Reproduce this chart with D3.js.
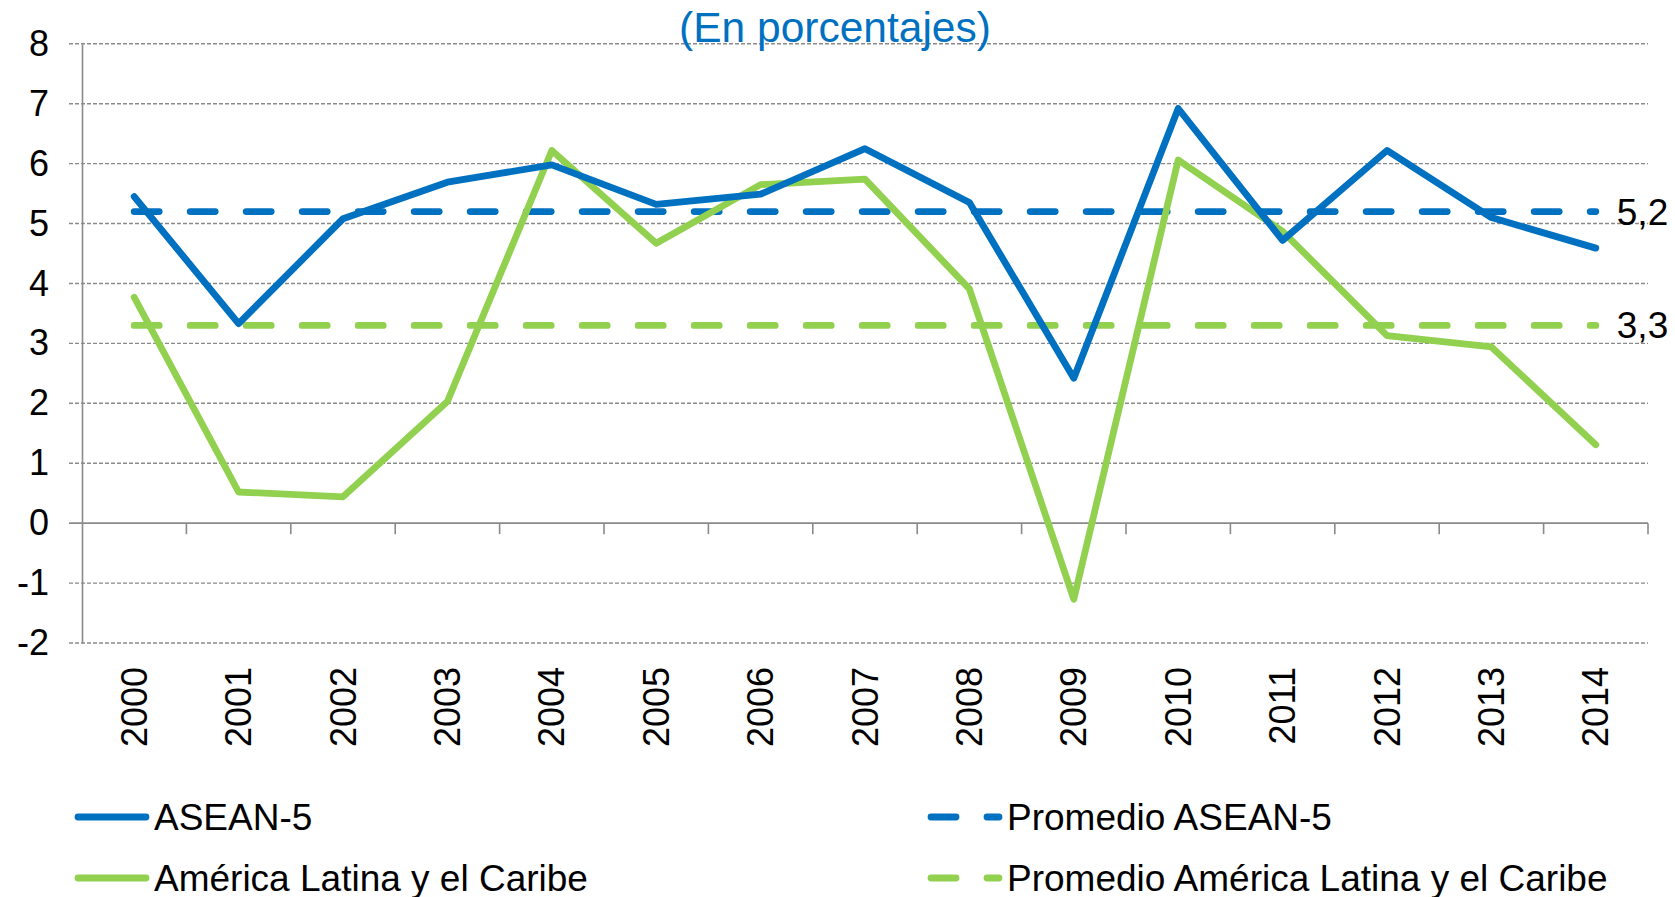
<!DOCTYPE html>
<html>
<head>
<meta charset="utf-8">
<script src="https://cdn.jsdelivr.net/npm/d3@7"></script>
<style>
  body { margin: 0; background: #fff; }
  svg { display: block; font-family: "Liberation Sans", Arial, sans-serif; }
</style>
</head>
<body>
<div id="chart"></div>
<script>
// data
var years = ["2000", "2001", "2002", "2003", "2004", "2005", "2006", "2007",
             "2008", "2009", "2010", "2011", "2012", "2013", "2014"];
var asean = [5.45, 3.33, 5.08, 5.69, 5.98, 5.32, 5.49, 6.25, 5.35, 2.42, 6.92, 4.72, 6.22, 5.10, 4.59];
var alc   = [3.77, 0.52, 0.44, 2.03, 6.22, 4.67, 5.65, 5.74, 3.91, -1.27, 6.06, 4.87, 3.13, 2.94, 1.31];
var avgAsean = 5.2, avgAlc = 3.3;
var avgLabels = ["5,2", "3,3"];
var yTicks = [-2, -1, 0, 1, 2, 3, 4, 5, 6, 7, 8];
var legendNames = ["ASEAN-5", "Promedio ASEAN-5", "América Latina y el Caribe", "Promedio América Latina y el Caribe"];
var title = "(En porcentajes)";

var width = 1675, height = 897;
var blue = "#0070C0", green = "#92D050", grey = "#8a8a8a";
var lineW = 6.8, dash = "25,31";

var svg = d3.select('#chart').append('svg')
    .attr('width', width)
    .attr('height', height);

//  scales
var x = d3.scaleBand().domain(years).range([82, 1648]).paddingInner(0).paddingOuter(0);
var y = d3.scaleLinear().domain([-2, 8]).range([643, 43.8]);
var cx = d => x(d) + x.bandwidth() / 2;

// gridlines
svg.append('g').selectAll('line')
    .data(yTicks.filter(d => d !== 0))
    .enter().append('line')
    .attr('x1', 69).attr('x2', 1648)
    .attr('y1', d => y(d)).attr('y2', d => y(d))
    .attr('stroke', grey).attr('stroke-width', 1.4)
    .attr('stroke-dasharray', '4,2');

// y axis
var yAxis = d3.axisLeft(y).tickValues(yTicks).tickSize(0).tickPadding(33)
    .tickFormat(d => String(d));
var gy = svg.append('g').attr('transform', 'translate(82,0)').call(yAxis);
gy.select('.domain').attr('stroke', grey).attr('stroke-width', 1.6);
gy.selectAll('text').attr('font-size', 36).attr('fill', '#000')
    .attr('font-family', '"Liberation Sans", Arial, sans-serif');

// x axis at 0
svg.append('line')
    .attr('x1', 69).attr('x2', 1648)
    .attr('y1', y(0)).attr('y2', y(0))
    .attr('stroke', grey).attr('stroke-width', 1.6);
var edges = years.map(d => x(d) + x.bandwidth());
svg.append('g').selectAll('line')
    .data(edges)
    .enter().append('line')
    .attr('x1', d => d).attr('x2', d => d)
    .attr('y1', y(0)).attr('y2', y(0) + 11)
    .attr('stroke', grey).attr('stroke-width', 1.6);

// x labels (rotated)
svg.append('g').selectAll('text')
    .data(years)
    .enter().append('text')
    .attr('transform', d => 'translate(' + cx(d) + ',667) rotate(-90)')
    .attr('text-anchor', 'end')
    .attr('dy', '0.35em')
    .attr('font-size', 36)
    .text(d => d);

// average lines
var avgs = [{v: avgAsean, c: blue, label: avgLabels[0]}, {v: avgAlc, c: green, label: avgLabels[1]}];
avgs.forEach(function (a) {
    svg.append('line')
        .attr('x1', cx(years[0])).attr('x2', cx(years[years.length - 1]))
        .attr('y1', y(a.v)).attr('y2', y(a.v))
        .attr('stroke', a.c).attr('stroke-width', lineW)
        .attr('stroke-linecap', 'round')
        .attr('stroke-dasharray', dash);
    svg.append('text')
        .attr('x', cx(years[years.length - 1]) + 21)
        .attr('y', y(a.v))
        .attr('dy', '0.35em')
        .attr('font-size', 37)
        .text(a.label);
});

// series lines
var line = d3.line().x((d, i) => cx(years[i])).y(d => y(d));
[{data: alc, c: green}, {data: asean, c: blue}].forEach(function (s) {
    svg.append('path')
        .attr('d', line(s.data))
        .attr('fill', 'none')
        .attr('stroke', s.c)
        .attr('stroke-width', lineW)
        .attr('stroke-linejoin', 'round')
        .attr('stroke-linecap', 'round');
});

// title
svg.append('text')
    .attr('x', 835).attr('y', 42)
    .attr('text-anchor', 'middle')
    .attr('font-size', 42.5)
    .attr('fill', blue)
    .text(title);

// legend
var legend = [
    {name: legendNames[0], c: blue, dashed: false, col: 0, row: 0},
    {name: legendNames[1], c: blue, dashed: true, col: 1, row: 0},
    {name: legendNames[2], c: green, dashed: false, col: 0, row: 1},
    {name: legendNames[3], c: green, dashed: true, col: 1, row: 1}
];
var colX = [78, 931], rowY = [817, 878];
var lg = svg.append('g').selectAll('g')
    .data(legend)
    .enter().append('g')
    .attr('transform', d => 'translate(' + colX[d.col] + ',' + rowY[d.row] + ')');
lg.append('line')
    .attr('x1', 0).attr('x2', 68)
    .attr('stroke', d => d.c).attr('stroke-width', lineW)
    .attr('stroke-linecap', 'round')
    .attr('stroke-dasharray', d => d.dashed ? dash : null);
lg.append('text')
    .attr('x', 76).attr('dy', '0.35em')
    .attr('font-size', 37)
    .text(d => d.name);
</script>
</body>
</html>
